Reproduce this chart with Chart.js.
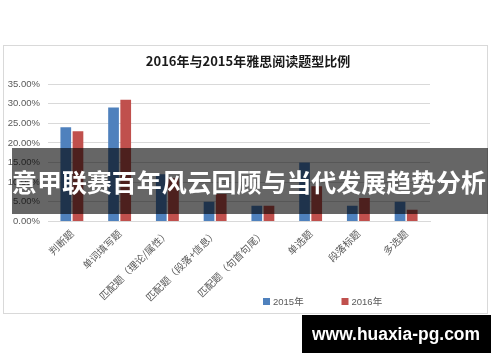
<!DOCTYPE html>
<html><head><meta charset="utf-8">
<script src="https://cdn.jsdelivr.net/npm/chart.js@4.4.0/dist/chart.umd.min.js"></script>
<style>html,body{margin:0;padding:0;background:#fff;}#wrap{width:500px;height:362px;position:relative}</style>
</head><body><div id="wrap"><canvas id="c" width="500" height="362"></canvas></div>
<script>
const TITLE = '2016年与2015年雅思阅读题型比例';
const CATEGORIES = ['判断题','单词填写题','匹配题（理论/属性）','匹配题（段落+信息）','匹配题（句首句尾）','单选题','段落标题','多选题'];
const SERIES_2015 = [24, 29, 12, 5, 4, 15, 4, 5];
const SERIES_2016 = [23, 31, 11, 7, 4, 9, 6, 3];
const SERIES_NAMES = ['2015年', '2016年'];
const Y_MAX = 35;
const Y_STEP = 5;
const BANNER_TEXT = '意甲联赛百年风云回顾与当代发展趋势分析';
const WATERMARK_TEXT = 'www.huaxia-pg.com';

const COLORS = ['#4f81bd', '#c0504d'];
const CJK = '"Noto Sans CJK SC", "Liberation Sans", sans-serif';
const LAT = '"Liberation Sans", "Noto Sans CJK SC", sans-serif';

const decor = {
  id: 'decor',
  beforeDraw(chart) {
    const ctx = chart.ctx;
    ctx.save();
    ctx.fillStyle = '#ffffff';
    ctx.fillRect(0, 0, chart.width, chart.height);
    ctx.strokeStyle = '#d9d9d9';
    ctx.lineWidth = 1;
    ctx.strokeRect(3.5, 45.5, 484, 268);
    // title
    ctx.fillStyle = '#1a1a1a';
    ctx.font = 'bold 13px ' + CJK;
    ctx.textAlign = 'center';
    ctx.textBaseline = 'middle';
    ctx.fillText(TITLE, 248, 61);
    ctx.restore();
  },
  afterDraw(chart) {
    const ctx = chart.ctx;
    ctx.save();
    // legend
    const lx = [263, 341.5];
    ctx.font = '9.5px ' + LAT;
    ctx.textBaseline = 'middle';
    ctx.textAlign = 'left';
    chart.data.datasets.forEach((ds, i) => {
      ctx.fillStyle = ds.backgroundColor;
      ctx.fillRect(lx[i], 298, 7, 7);
      ctx.fillStyle = '#595959';
      ctx.fillText(ds.label, lx[i] + 10, 302);
    });
    // banner
    ctx.fillStyle = 'rgba(0,0,0,0.6)';
    ctx.fillRect(12, 148, 476, 66);
    ctx.fillStyle = '#ffffff';
    ctx.font = 'bold 25px ' + CJK;
    ctx.textAlign = 'center';
    ctx.textBaseline = 'middle';
    ctx.fillText(BANNER_TEXT, 249, 182, 474);
    // watermark
    ctx.fillStyle = '#000000';
    ctx.fillRect(302, 315, 189, 38);
    ctx.fillStyle = '#ffffff';
    ctx.font = 'bold 18px ' + LAT;
    ctx.textAlign = 'center';
    ctx.fillText(WATERMARK_TEXT, 396, 335, 168);
    ctx.restore();
  }
};

new Chart(document.getElementById('c'), {
  type: 'bar',
  data: {
    labels: CATEGORIES,
    datasets: [
      { label: SERIES_NAMES[0], data: SERIES_2015, backgroundColor: COLORS[0], categoryPercentage: 0.51, barPercentage: 0.88 },
      { label: SERIES_NAMES[1], data: SERIES_2016, backgroundColor: COLORS[1], categoryPercentage: 0.51, barPercentage: 0.88 }
    ]
  },
  options: {
    responsive: false,
    animation: false,
    layout: { padding: { left: 3, top: 84, right: 70, bottom: 0 } },
    plugins: { legend: { display: false }, title: { display: false }, tooltip: { enabled: false } },
    scales: {
      x: {
        grid: { display: false, drawTicks: false },
        border: { display: true, color: '#d9d9d9' },
        ticks: {
          autoSkip: false, maxRotation: 45, minRotation: 45, padding: 6,
          color: '#595959', font: { family: CJK, size: 10 }
        },
        afterFit(scale) { scale.height = 140.5; }
      },
      y: {
        min: 0, max: Y_MAX,
        grid: { color: '#d9d9d9', drawTicks: false },
        border: { display: false },
        ticks: {
          stepSize: Y_STEP, padding: 8, color: '#595959',
          font: { family: LAT, size: 9.5 },
          callback: v => v.toFixed(2) + '%'
        },
        afterFit(scale) { scale.width = 45; }
      }
    }
  },
  plugins: [decor]
});
</script>
</body></html>
